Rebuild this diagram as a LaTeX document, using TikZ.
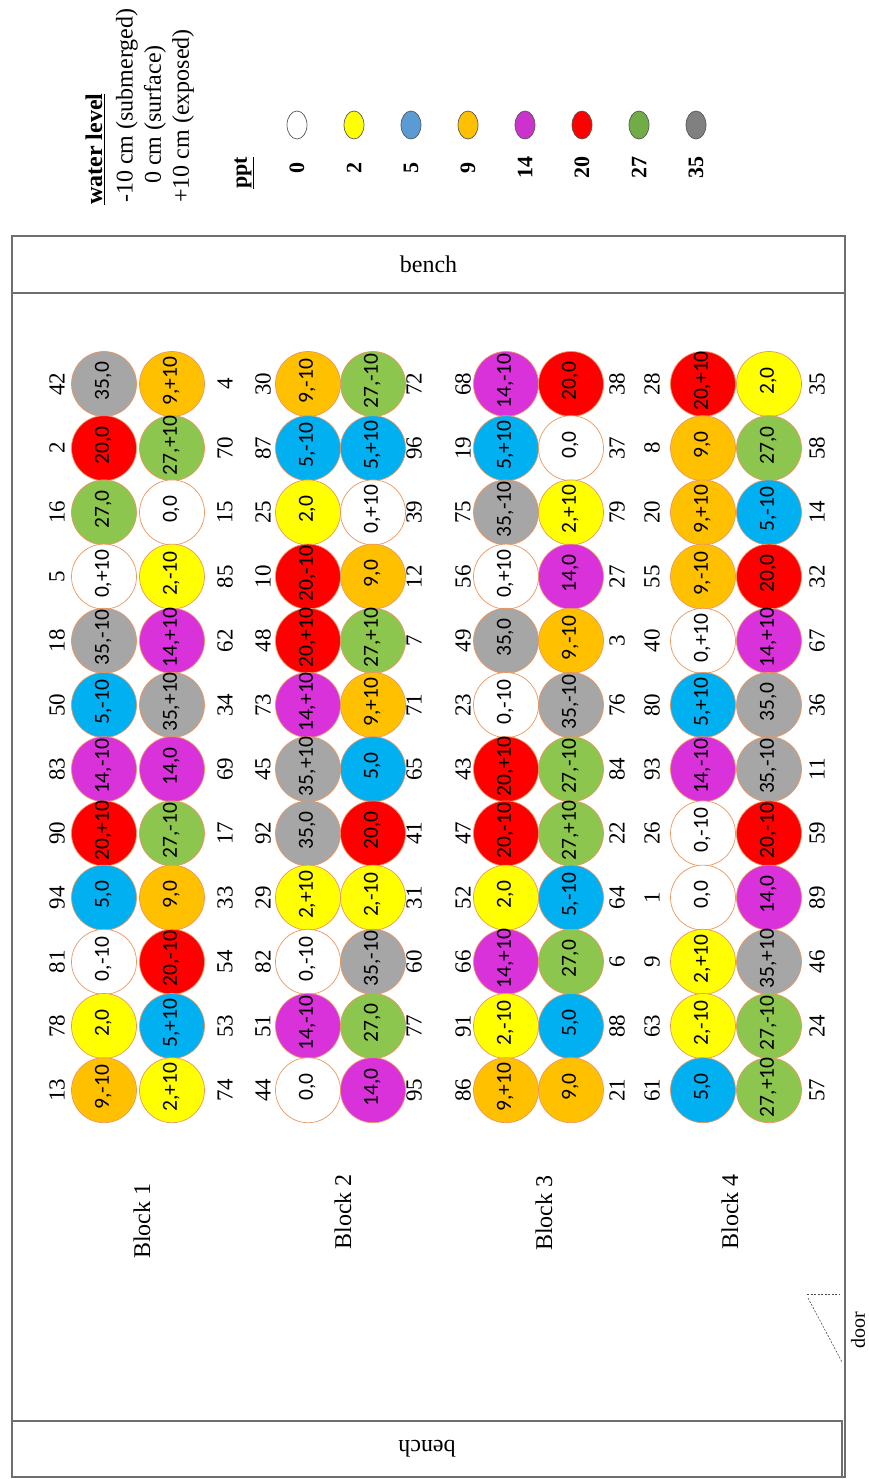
\documentclass[tikz,border=0pt]{standalone}
\usepackage{fontspec}
\setmainfont{Liberation Serif}
\newfontfamily\cellfont{Carlito}
\usetikzlibrary{shapes.geometric}
\definecolor{c0}{RGB}{255,255,255}
\definecolor{c2}{RGB}{255,255,0}
\definecolor{c5}{RGB}{0,176,240}
\definecolor{c9}{RGB}{255,192,0}
\definecolor{c14}{RGB}{218,50,218}
\definecolor{c20}{RGB}{255,0,0}
\definecolor{c27}{RGB}{141,198,78}
\definecolor{c35}{RGB}{166,166,166}
\definecolor{lc0}{RGB}{255,255,255}
\definecolor{lc2}{RGB}{255,255,0}
\definecolor{lc5}{RGB}{91,155,213}
\definecolor{lc9}{RGB}{255,192,0}
\definecolor{lc14}{RGB}{204,51,204}
\definecolor{lc20}{RGB}{255,0,0}
\definecolor{lc27}{RGB}{112,173,71}
\definecolor{lc35}{RGB}{128,128,128}
\definecolor{cellborder}{RGB}{235,150,95}
\definecolor{framegray}{RGB}{110,110,110}
\newcommand{\circcol}[3]{%
  \foreach \a/\b [count=\i] in {#3} {
    \node[cell, fill=c\a] (#1\i) at (#2, {384+(\i-1)*64.2}) {\makebox[0pt]{\hspace*{6pt}\raisebox{4pt}{\a,\b}}};
  }}
\newcommand{\labcol}[3]{%
  \foreach \n [count=\i] in {#3} {
    \node[lab] (#1\i) at (#2, {384+(\i-1)*64.2}) {\n};
  }}
\begin{document}
\begin{tikzpicture}[x=1pt,y=-1pt,
  cell/.style={circle, draw=cellborder, line width=0.7pt, minimum size=65pt, inner sep=0pt, rotate=90, font=\cellfont\fontsize{21.5}{21.5}\selectfont},
  lab/.style={rotate=90, inner sep=0pt, font=\fontsize{23}{23}\selectfont},
  framebox/.style={draw=framegray, line width=1.6pt},
  benchbox/.style={draw=framegray, line width=1.4pt, inner sep=0pt, font=\fontsize{24}{24}\selectfont},
  legtxt/.style={rotate=90, inner sep=0pt, font=\fontsize{24}{24}\selectfont},
  legdot/.style={ellipse, draw=black!65, line width=0.7pt, minimum width=20pt, minimum height=28pt, inner sep=0pt},
  legval/.style={rotate=90, inner sep=0pt, font=\bfseries\fontsize{22}{22}\selectfont},
  blocklab/.style={rotate=90, inner sep=0pt, font=\fontsize{24}{24}\selectfont},
  doorline/.style={draw=black!70, dashed, line width=0.6pt, dash pattern=on 2pt off 1.5pt}
]
\useasboundingbox (0,0) rectangle (869,1479);
% room
\draw[framebox] (12,236) rectangle (845,1477);
\node[benchbox, minimum width=833pt, minimum height=57pt] (benchT) at (428.5,264.5) {bench};
\node[benchbox, minimum width=830pt, minimum height=56pt, rotate=180] (benchB) at (427,1449) {bench};
% door
\coordinate (d1) at (807,1294);
\coordinate (d2) at (839,1294);
\coordinate (d3) at (808,1298);
\coordinate (d4) at (842,1362);
\draw[doorline] (d1) -- (d2);
\draw[doorline] (d3) -- (d4);
\node[rotate=90, inner sep=0pt, font=\fontsize{20}{20}\selectfont] (door) at (858,1330) {door};
% legend
\node[legtxt, anchor=west] (wl) at (95,205) {\textbf{\underline{water level}}};
\node[legtxt, anchor=west] (l1) at (127,203) {-10 cm (submerged)};
\node[legtxt, anchor=west] (l2) at (155,184) {0 cm (surface)};
\node[legtxt, anchor=west] (l3) at (183,203) {+10 cm (exposed)};
\node[legtxt, font=\bfseries\fontsize{22}{22}\selectfont] (ppt) at (244,173) {\underline{ppt}};
\foreach \v [count=\k] in {0,2,5,9,14,20,27,35} {
  \node[legdot, fill=lc\v] (k\v) at ({297+(\k-1)*57}, 125) {};
  \node[legval] (v\v) at ({297+(\k-1)*57}, 168) {\v};
}
% block 1
\labcol{a1L}{57}{42,2,16,5,18,50,83,90,94,81,78,13}
\circcol{b1L}{104}{35/0,20/0,27/0,0/+10,35/-10,5/-10,14/-10,20/+10,5/0,0/-10,2/0,9/-10}
\circcol{b1R}{172}{9/+10,27/+10,0/0,2/-10,14/+10,35/+10,14/0,27/-10,9/0,20/-10,5/+10,2/+10}
\labcol{a1R}{225}{4,70,15,85,62,34,69,17,33,54,53,74}
% block 2
\labcol{a2L}{263}{30,87,25,10,48,73,45,92,29,82,51,44}
\circcol{b2L}{308}{9/-10,5/-10,2/0,20/-10,20/+10,14/+10,35/+10,35/0,2/+10,0/-10,14/-10,0/0}
\circcol{b2R}{373}{27/-10,5/+10,0/+10,9/0,27/+10,9/+10,5/0,20/0,2/-10,35/-10,27/0,14/0}
\labcol{a2R}{414}{72,96,39,12,7,71,65,41,31,60,77,95}
% block 3
\labcol{a3L}{463}{68,19,75,56,49,23,43,47,52,66,91,86}
\circcol{b3L}{506}{14/-10,5/+10,35/-10,0/+10,35/0,0/-10,20/+10,20/-10,2/0,14/+10,2/-10,9/+10}
\circcol{b3R}{571}{20/0,0/0,2/+10,14/0,9/-10,35/-10,27/-10,27/+10,5/-10,27/0,5/0,9/0}
\labcol{a3R}{617}{38,37,79,27,3,76,84,22,64,6,88,21}
% block 4
\labcol{a4L}{652}{28,8,20,55,40,80,93,26,1,9,63,61}
\circcol{b4L}{703}{20/+10,9/0,9/+10,9/-10,0/+10,5/+10,14/-10,0/-10,0/0,2/+10,2/-10,5/0}
\circcol{b4R}{769}{2/0,27/0,5/-10,20/0,14/+10,35/0,35/-10,20/-10,14/0,35/+10,27/-10,27/+10}
\labcol{a4R}{817}{35,58,14,32,67,36,11,59,89,46,24,57}
% block labels
\node[blocklab] (blk1) at (142,1221) {Block 1};
\node[blocklab] (blk2) at (343,1212) {Block 2};
\node[blocklab] (blk3) at (544,1213) {Block 3};
\node[blocklab] (blk4) at (730,1212) {Block 4};
\end{tikzpicture}
\end{document}
